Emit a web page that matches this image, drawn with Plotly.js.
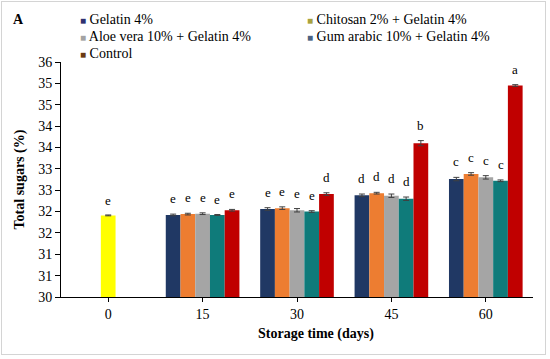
<!DOCTYPE html>
<html>
<head>
<meta charset="utf-8">
<script src="https://cdn.plot.ly/plotly-3.0.1.min.js"></script>
<style>
  html, body { margin: 0; padding: 0; background: #fff; }
  #wrap { position: relative; width: 550px; height: 359px; }
  #chart { width: 550px; height: 359px; }
  #frame { position: absolute; left: 1px; top: 1px; width: 543px; height: 352px; border: 1px solid #d4d4d4; pointer-events: none; }
</style>
</head>
<body>
<div id="wrap"><div id="chart"></div><div id="frame"></div></div>
<script>
// ---- data ----
const days = ['0', '15', '30', '45', '60'];
const treatedDays = ['15', '30', '45', '60'];
const seriesNames = ['Gelatin 4%', 'Chitosan 2% + Gelatin 4%', 'Aloe vera 10% + Gelatin 4%', 'Gum arabic 10% + Gelatin 4%', 'Control'];
const gelatin  = [31.92, 32.06, 32.38, 32.76];
const chitosan = [31.94, 32.08, 32.43, 32.88];
const aloe     = [31.95, 32.03, 32.37, 32.80];
const gum      = [31.92, 32.00, 32.30, 32.72];
const control  = [32.03, 32.41, 33.60, 34.95];
const gelatinErr  = [0.02, 0.03, 0.03, 0.04];
const chitosanErr = [0.02, 0.03, 0.02, 0.03];
const aloeErr     = [0.02, 0.04, 0.04, 0.04];
const gumErr      = [0.01, 0.02, 0.04, 0.02];
const controlErr  = [0.02, 0.03, 0.06, 0.02];
const gelatinLetters  = ['e', 'e', 'd', 'c'];
const chitosanLetters = ['e', 'e', 'd', 'c'];
const aloeLetters     = ['e', 'e', 'd', 'c'];
const gumLetters      = ['e', 'e', 'd', 'c'];
const controlLetters  = ['e', 'd', 'b', 'a'];
const day0Value = [31.91];
const day0Err = [0.01];
const day0Letter = ['e'];
const yTickVals = [30, 30.5, 31, 31.5, 32, 32.5, 33, 33.5, 34, 34.5, 35, 35.5];
const yTickText = ['30', '31', '31', '32', '32', '33', '33', '34', '34', '35', '35', '36'];

// ---- styles ----
const barColors = ['#203864', '#ED7D31', '#A5A5A5', '#0F7B7A', '#C00000'];
const legendColors = ['#2F3170', '#A9A23E', '#A3A3A3', '#4B6282', '#6A3A12'];
const day0Color = '#FFFF00';
const FONT = 'Liberation Serif, Times New Roman, serif';
const W = 0.156;
const groupStart = -0.39;

const values = [gelatin, chitosan, aloe, gum, control];
const errs = [gelatinErr, chitosanErr, aloeErr, gumErr, controlErr];
const letters = [gelatinLetters, chitosanLetters, aloeLetters, gumLetters, controlLetters];

const traces = [];
const annotations = [];

traces.push({
  type: 'bar', x: ['0'], y: day0Value, name: 'Day 0', showlegend: false,
  marker: { color: day0Color }, width: W, offset: -W / 2,
  error_y: { type: 'data', array: day0Err, visible: true, color: '#404040', thickness: 1, width: 3 }
});
annotations.push({
  x: days.indexOf('0'), y: day0Value[0] + day0Err[0], xref: 'x', yref: 'y',
  text: day0Letter[0], showarrow: false, yanchor: 'bottom', yshift: 5,
  font: { family: FONT, size: 13, color: '#000' }
});

for (let s = 0; s < 5; s++) {
  const off = groupStart + s * W;
  traces.push({
    type: 'bar', x: treatedDays, y: values[s], name: seriesNames[s], showlegend: false,
    marker: { color: barColors[s] }, width: W, offset: off,
    error_y: { type: 'data', array: errs[s], visible: true, color: '#404040', thickness: 1, width: 3 }
  });
  for (let i = 0; i < treatedDays.length; i++) {
    annotations.push({
      x: days.indexOf(treatedDays[i]) + off + W / 2, y: values[s][i] + errs[s][i],
      xref: 'x', yref: 'y', text: letters[s][i], showarrow: false,
      yanchor: 'bottom', yshift: 6,
      font: { family: FONT, size: 13, color: '#000' }
    });
  }
}

// legend as annotations (2 columns)
const legX = [0.035, 0.518];
const legY = [1.18, 1.11, 1.035];
for (let s = 0; s < seriesNames.length; s++) {
  annotations.push({
    xref: 'paper', yref: 'paper', x: legX[s % 2], y: legY[Math.floor(s / 2)],
    xanchor: 'left', yanchor: 'middle', showarrow: false,
    text: '<span style="color:' + legendColors[s] + ';font-size:10px">■</span> ' + seriesNames[s],
    font: { family: FONT, size: 14, color: '#000' }
  });
}

// panel label, axis titles
annotations.push({ xref: 'paper', yref: 'paper', x: -0.091, y: 1.179, xanchor: 'center', yanchor: 'middle', text: '<b>A</b>', showarrow: false,
  font: { family: FONT, size: 14, color: '#000' } });
annotations.push({ xref: 'paper', yref: 'paper', x: 0.541, y: -0.157, xanchor: 'center', yanchor: 'middle', text: '<b>Storage time (days)</b>', showarrow: false,
  font: { family: FONT, size: 14, color: '#000' } });
annotations.push({ xref: 'paper', yref: 'paper', x: -0.087, y: 0.5, xanchor: 'center', yanchor: 'middle', textangle: -90, text: '<b>Total sugars (%)</b>', showarrow: false,
  font: { family: FONT, size: 14, color: '#000' } });

const layout = {
  width: 550, height: 359,
  margin: { l: 61, r: 17, t: 62, b: 62 },
  paper_bgcolor: '#fff', plot_bgcolor: '#fff',
  barmode: 'overlay',
  showlegend: false,
  font: { family: FONT, size: 14, color: '#000' },
  xaxis: {
    type: 'category', categoryorder: 'array', categoryarray: days,
    range: [-0.5, 4.5], showgrid: false, zeroline: false,
    showline: true, linecolor: '#000', linewidth: 1,
    ticks: 'outside', ticklen: 4, tickcolor: '#000',
    tickfont: { family: FONT, size: 14, color: '#000' }
  },
  yaxis: {
    range: [30, 35.5], showgrid: false, zeroline: false,
    showline: true, linecolor: '#000', linewidth: 1,
    ticks: 'outside', ticklen: 5, tickcolor: '#000',
    tickmode: 'array', tickvals: yTickVals, ticktext: yTickText,
    tickfont: { family: FONT, size: 14, color: '#000' }
  },
  annotations: annotations
};

Plotly.newPlot('chart', traces, layout, { displayModeBar: false, staticPlot: true });
</script>
</body>
</html>
